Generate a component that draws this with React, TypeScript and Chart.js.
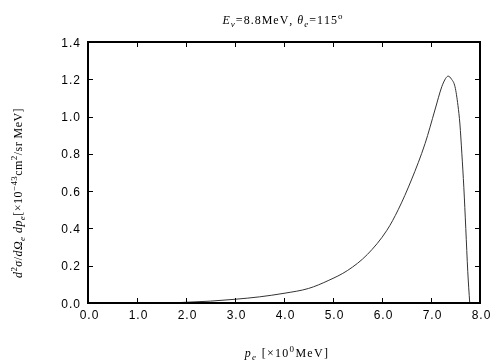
import React, { useEffect, useRef } from "react";
import { Chart, registerables } from "chart.js";

Chart.register(...registerables);

const momentum = [1.7, 2.0, 2.5, 3.0, 3.5, 4.0, 4.5, 4.9, 5.3, 5.7, 6.1, 6.33, 6.6, 6.88, 7.08, 7.22, 7.3, 7.35, 7.42, 7.49, 7.55, 7.59, 7.63, 7.67, 7.71, 7.75, 7.79];
const crossSection = [0.0, 0.004, 0.01, 0.02, 0.033, 0.052, 0.078, 0.12, 0.175, 0.26, 0.39, 0.5, 0.66, 0.856, 1.035, 1.16, 1.205, 1.217, 1.2, 1.16, 1.06, 0.96, 0.8, 0.62, 0.4, 0.17, 0.0];
const xTicks = [0, 1, 2, 3, 4, 5, 6, 7, 8];
const yTicks = [0, 0.2, 0.4, 0.6, 0.8, 1.0, 1.2, 1.4];

type Seg = { t: string; i?: boolean; sub?: boolean; sup?: boolean };

const titleSegs: Seg[] = [
  { t: "E", i: true }, { t: "ν", i: true, sub: true }, { t: "=8.8MeV, " },
  { t: "θ", i: true }, { t: "e", i: true, sub: true }, { t: "=115" }, { t: "o", sup: true },
];
const xTitleSegs: Seg[] = [
  { t: "p", i: true }, { t: "e", i: true, sub: true }, { t: " [×10" }, { t: "0", sup: true }, { t: "MeV]" },
];
const yTitleSegs: Seg[] = [
  { t: "d", i: true }, { t: "2", sup: true }, { t: "σ", i: true }, { t: "/" }, { t: "d", i: true },
  { t: "Ω", i: true }, { t: "e", i: true, sub: true }, { t: " " }, { t: "dp", i: true }, { t: "e", i: true, sub: true },
  { t: "[×10" }, { t: "−43", sup: true }, { t: "cm" }, { t: "2", sup: true }, { t: "/sr MeV]" },
];

const SERIF = '"Liberation Serif", "DejaVu Serif", serif';
const SANS = '"Liberation Sans", Arial, sans-serif';

function segFont(s: Seg) {
  const size = s.sub || s.sup ? 9 : 12;
  return `${s.i ? "italic " : ""}${size}px ${SERIF}`;
}

function spacedWidth(ctx: CanvasRenderingContext2D, text: string, sp: number) {
  let w = 0;
  for (const ch of Array.from(text)) w += ctx.measureText(ch).width + sp;
  return w;
}

function drawSpaced(ctx: CanvasRenderingContext2D, text: string, x: number, y: number, sp: number) {
  for (const ch of Array.from(text)) {
    ctx.fillText(ch, x, y);
    x += ctx.measureText(ch).width + sp;
  }
  return x;
}

function drawRich(ctx: CanvasRenderingContext2D, segs: Seg[], cx: number, baseline: number, sp: number) {
  let w = 0;
  for (const s of segs) {
    ctx.font = segFont(s);
    w += spacedWidth(ctx, s.t, sp);
  }
  let x = cx - w / 2;
  ctx.textBaseline = "alphabetic";
  ctx.textAlign = "left";
  ctx.fillStyle = "#000";
  for (const s of segs) {
    ctx.font = segFont(s);
    const dy = s.sub ? 3 : s.sup ? -5 : 0;
    x = drawSpaced(ctx, s.t, x, baseline + dy, sp);
  }
}

const framePlugin = {
  id: "framePlugin",
  afterDraw(chart: any) {
    const ctx: CanvasRenderingContext2D = chart.ctx;
    const { left, right, top, bottom } = chart.chartArea;
    const xs = chart.scales.x;
    const ys = chart.scales.y;
    ctx.save();
    ctx.strokeStyle = "#000";
    ctx.lineWidth = 1;
    const tl = 5;
    ctx.beginPath();
    for (const v of xTicks) {
      const px = Math.round(xs.getPixelForValue(v)) + 0.5;
      ctx.moveTo(px, bottom);
      ctx.lineTo(px, bottom - tl);
      ctx.moveTo(px, top);
      ctx.lineTo(px, top + tl);
    }
    for (const v of yTicks) {
      const py = Math.round(ys.getPixelForValue(v)) + 0.5;
      ctx.moveTo(left, py);
      ctx.lineTo(left + tl, py);
      ctx.moveTo(right, py);
      ctx.lineTo(right - tl, py);
    }
    ctx.stroke();
    ctx.lineWidth = 2;
    ctx.strokeRect(left, top, right - left, bottom - top);

    // tick labels
    ctx.fillStyle = "#000";
    ctx.font = `12px ${SANS}`;
    ctx.textAlign = "left";
    ctx.textBaseline = "alphabetic";
    const sp = 1;
    for (const v of xTicks) {
      const label = v.toFixed(1);
      const w = spacedWidth(ctx, label, sp) - sp;
      const px = xs.getPixelForValue(v);
      drawSpaced(ctx, label, px - w / 2 + 1, bottom + 16, sp);
    }
    for (const v of yTicks) {
      const label = v.toFixed(1);
      const w = spacedWidth(ctx, label, sp) - sp;
      const py = ys.getPixelForValue(v);
      drawSpaced(ctx, label, left - 8 - w, py + 4.5, sp);
    }

    drawRich(ctx, titleSegs, 283, 24, 1);
    drawRich(ctx, xTitleSegs, 287, 357, 1.3);
    ctx.translate(22, 193);
    ctx.rotate(-Math.PI / 2);
    drawRich(ctx, yTitleSegs, 0, 0, 0.45);
    ctx.restore();
  },
};

export default function App() {
  const ref = useRef<HTMLCanvasElement>(null);
  useEffect(() => {
    if (!ref.current) return;
    const chart = new Chart(ref.current, {
      type: "line",
      data: {
        datasets: [
          {
            data: momentum.map((p, i) => ({ x: p, y: crossSection[i] })),
            borderColor: "#333",
            borderWidth: 1,
            pointRadius: 0,
            cubicInterpolationMode: "monotone",
            fill: false,
          },
        ],
      },
      options: {
        animation: false,
        responsive: false,
        events: [],
        layout: { padding: { left: 0, top: 42, right: 24, bottom: 0 } },
        plugins: { legend: { display: false }, tooltip: { enabled: false }, title: { display: false } },
        scales: {
          x: {
            type: "linear",
            min: 0,
            max: 8,
            afterFit: (s: any) => { s.height = 57; },
            afterBuildTicks: (s: any) => { s.ticks = xTicks.map((v) => ({ value: v })); },
            grid: { display: false, drawTicks: false },
            border: { display: false },
            ticks: { display: false },
          },
          y: {
            type: "linear",
            min: 0,
            max: 1.4,
            afterFit: (s: any) => { s.width = 88; },
            afterBuildTicks: (s: any) => { s.ticks = yTicks.map((v) => ({ value: v })); },
            grid: { display: false, drawTicks: false },
            border: { display: false },
            ticks: { display: false },
          },
        },
      },
      plugins: [framePlugin],
    } as any);
    return () => chart.destroy();
  }, []);
  return (
    <div style={{ position: "fixed", left: 0, top: 0, width: 504, height: 360, background: "#fff" }}>
      <canvas ref={ref} width={504} height={360} style={{ width: 504, height: 360, display: "block" }} />
    </div>
  );
}
